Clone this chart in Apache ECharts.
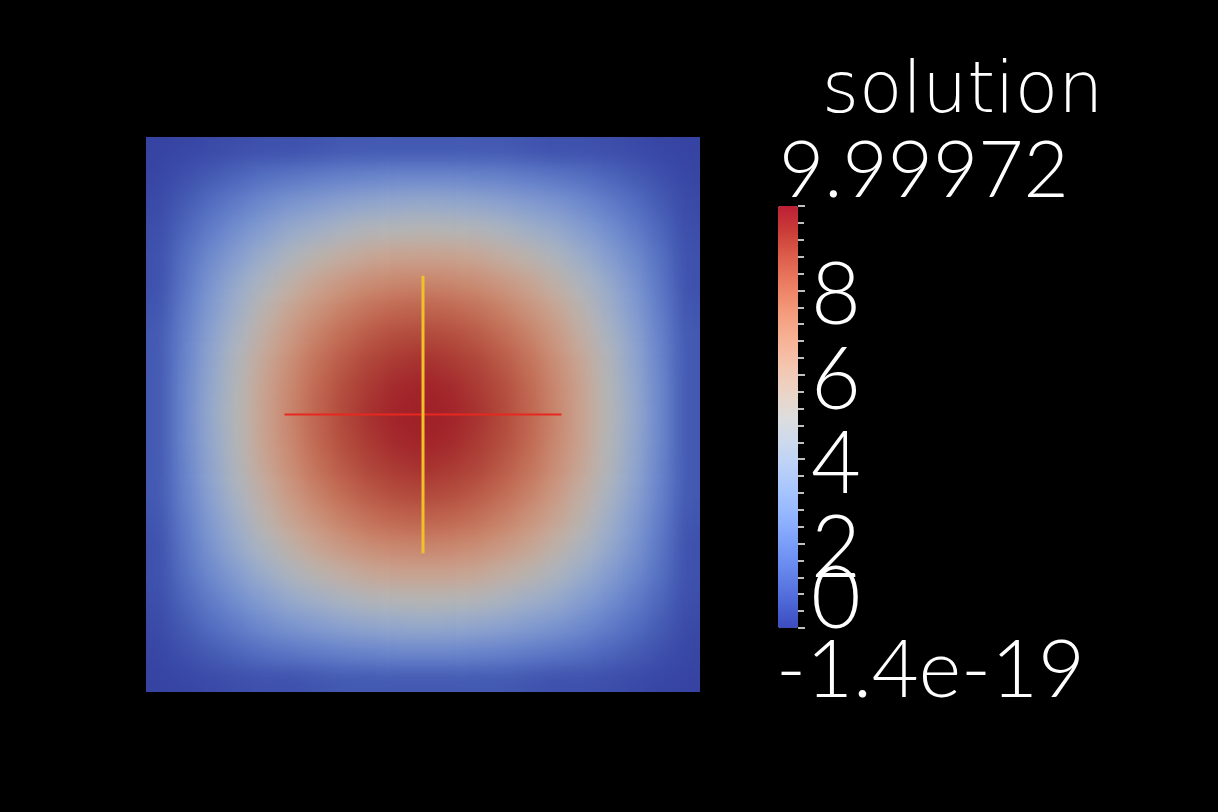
<!DOCTYPE html>
<html>
<head>
<meta charset="utf-8">
<script src="https://cdn.jsdelivr.net/npm/echarts@6/dist/echarts.min.js"></script>
<style>
  html, body { margin: 0; padding: 0; background: #000; width: 1218px; height: 812px; overflow: hidden; }
  #heat { position: absolute; left: 146px; top: 137px; width: 554px; height: 555px; filter: url(#smooth); }
  #main { position: absolute; left: 0; top: 0; width: 1218px; height: 812px; }
</style>
</head>
<body>
<svg width="0" height="0" style="position:absolute">
  <defs>
    <filter id="smooth" x="0" y="0" width="1" height="1" filterUnits="objectBoundingBox" color-interpolation-filters="sRGB">
      <feGaussianBlur stdDeviation="10"/>
      <feComponentTransfer><feFuncA type="table" tableValues="1 1"/></feComponentTransfer>
    </filter>
  </defs>
</svg>
<div id="heat"></div>
<div id="main"></div>
<script>
// ---- data ----
const fieldName = 'solution';
const rangeMax = 9.99972;
const rangeMinLabel = '-1.4e-19';
const rangeMaxLabel = '9.99972';
const rangeMin = 0;
const barTickValues = [2, 4, 6, 8];   // labels beside the colour bar
const barBottomTickValue = 0;         // bottom label, nudged up as in the picture

// cell indices across the square (x: left->right, y: bottom->top)
const xCells = ['0','1','2','3','4','5','6','7','8','9','10','11','12','13','14','15','16','17','18','19','20'];
const yCells = ['0','1','2','3','4','5','6','7','8','9','10','11','12','13','14','15','16','17','18','19','20'];

// estimated "solution" values per cell, rows from bottom (y=0) to top (y=20)
const solutionRows = [
  [0.1,0.2,0.3,0.4,0.5,0.5,0.6,0.7,0.7,0.7,0.7,0.7,0.7,0.7,0.6,0.5,0.5,0.4,0.3,0.2,0.1],
  [0.2,0.5,0.8,1.1,1.4,1.6,1.8,2.0,2.1,2.2,2.2,2.2,2.1,2.0,1.8,1.6,1.4,1.1,0.8,0.5,0.2],
  [0.3,0.8,1.3,1.8,2.3,2.7,3.0,3.3,3.5,3.6,3.7,3.6,3.5,3.3,3.0,2.7,2.3,1.8,1.3,0.8,0.3],
  [0.4,1.1,1.8,2.5,3.1,3.7,4.1,4.5,4.8,4.9,5.0,4.9,4.8,4.5,4.1,3.7,3.1,2.5,1.8,1.1,0.4],
  [0.5,1.4,2.3,3.1,3.9,4.6,5.2,5.6,6.0,6.2,6.2,6.2,6.0,5.6,5.2,4.6,3.9,3.1,2.3,1.4,0.5],
  [0.5,1.6,2.7,3.7,4.6,5.4,6.1,6.6,7.0,7.2,7.3,7.2,7.0,6.6,6.1,5.4,4.6,3.7,2.7,1.6,0.5],
  [0.6,1.8,3.0,4.1,5.2,6.1,6.8,7.4,7.9,8.2,8.3,8.2,7.9,7.4,6.8,6.1,5.2,4.1,3.0,1.8,0.6],
  [0.7,2.0,3.3,4.5,5.6,6.6,7.4,8.1,8.6,8.9,9.0,8.9,8.6,8.1,7.4,6.6,5.6,4.5,3.3,2.0,0.7],
  [0.7,2.1,3.5,4.8,6.0,7.0,7.9,8.6,9.1,9.4,9.6,9.4,9.1,8.6,7.9,7.0,6.0,4.8,3.5,2.1,0.7],
  [0.7,2.2,3.6,4.9,6.2,7.2,8.2,8.9,9.4,9.8,9.9,9.8,9.4,8.9,8.2,7.2,6.2,4.9,3.6,2.2,0.7],
  [0.7,2.2,3.7,5.0,6.2,7.3,8.3,9.0,9.6,9.9,10.0,9.9,9.6,9.0,8.3,7.3,6.2,5.0,3.7,2.2,0.7],
  [0.7,2.2,3.6,4.9,6.2,7.2,8.2,8.9,9.4,9.8,9.9,9.8,9.4,8.9,8.2,7.2,6.2,4.9,3.6,2.2,0.7],
  [0.7,2.1,3.5,4.8,6.0,7.0,7.9,8.6,9.1,9.4,9.6,9.4,9.1,8.6,7.9,7.0,6.0,4.8,3.5,2.1,0.7],
  [0.7,2.0,3.3,4.5,5.6,6.6,7.4,8.1,8.6,8.9,9.0,8.9,8.6,8.1,7.4,6.6,5.6,4.5,3.3,2.0,0.7],
  [0.6,1.8,3.0,4.1,5.2,6.1,6.8,7.4,7.9,8.2,8.3,8.2,7.9,7.4,6.8,6.1,5.2,4.1,3.0,1.8,0.6],
  [0.5,1.6,2.7,3.7,4.6,5.4,6.1,6.6,7.0,7.2,7.3,7.2,7.0,6.6,6.1,5.4,4.6,3.7,2.7,1.6,0.5],
  [0.5,1.4,2.3,3.1,3.9,4.6,5.2,5.6,6.0,6.2,6.2,6.2,6.0,5.6,5.2,4.6,3.9,3.1,2.3,1.4,0.5],
  [0.4,1.1,1.8,2.5,3.1,3.7,4.1,4.5,4.8,4.9,5.0,4.9,4.8,4.5,4.1,3.7,3.1,2.5,1.8,1.1,0.4],
  [0.3,0.8,1.3,1.8,2.3,2.7,3.0,3.3,3.5,3.6,3.7,3.6,3.5,3.3,3.0,2.7,2.3,1.8,1.3,0.8,0.3],
  [0.2,0.5,0.8,1.1,1.4,1.6,1.8,2.0,2.1,2.2,2.2,2.2,2.1,2.0,1.8,1.6,1.4,1.1,0.8,0.5,0.2],
  [0.1,0.2,0.3,0.4,0.5,0.5,0.6,0.7,0.7,0.7,0.7,0.7,0.7,0.7,0.6,0.5,0.5,0.4,0.3,0.2,0.1]
];

// probe lines over the domain [0,1] x [0,1]
const redLineX = [0.25, 0.75];
const redLineY = [0.5, 0.5];
const yellowLineX = [0.5, 0.5];
const yellowLineY = [0.25, 0.75];

// ---- styles ----
const coolWarm = ['#3b4cc0','#4d68d7','#6282ea','#7799f7','#8db0fe','#a3c2ff','#b8d0f9','#ccd9ee',
                  '#dddddd','#ecd3c5','#f5c4ad','#f7b194','#f49a7b','#ec7f63','#de604d','#cb3e38','#bd1f35'];
const coolWarmLit = ['#343f9f','#4156b0','#526cc0','#647fca','#7590cf','#879fd0','#98abcb','#a8b3c3',
                     '#b6b6b3','#c3ada1','#c9a18d','#cb9179','#c87e65','#c26a52','#b65342','#aa3a33','#a01f28'];

const heatData = [];
solutionRows.forEach(function (row, j) {
  row.forEach(function (v, i) { heatData.push([i, j, v]); });
});

const heat = echarts.init(document.getElementById('heat'), null, { renderer: 'canvas' });
heat.setOption({
  animation: false,
  backgroundColor: 'transparent',
  grid: { left: 0, right: 0, top: 0, bottom: 0 },
  xAxis: { type: 'category', data: xCells, show: false },
  yAxis: { type: 'category', data: yCells, show: false },
  visualMap: { show: false, min: rangeMin, max: rangeMax, calculable: false, inRange: { color: coolWarmLit } },
  series: [{ type: 'heatmap', data: heatData, progressive: 0, itemStyle: { borderWidth: 0 } }]
});

const numFont = 'Lato';
const labelText = { fontFamily: numFont, fontWeight: 300, fontSize: 86, color: '#ffffff' };
const main = echarts.init(document.getElementById('main'), null, { renderer: 'canvas' });
main.setOption({
  animation: false,
  backgroundColor: 'transparent',
  grid: [
    { left: 146, top: 137, width: 554, height: 555 },
    { left: 778, top: 206, width: 20, height: 422 }
  ],
  xAxis: [
    { type: 'value', gridIndex: 0, min: 0, max: 1, show: false },
    { type: 'value', gridIndex: 1, min: 0, max: 1, show: false }
  ],
  yAxis: [
    { type: 'value', gridIndex: 0, min: 0, max: 1, show: false },
    {
      type: 'value', gridIndex: 1, position: 'right', min: rangeMin, max: rangeMax, interval: 2, z: 10,
      splitLine: { show: false },
      axisLine: { show: true, onZero: false, lineStyle: { color: 'rgba(0,0,0,0)', width: 0 } },
      axisTick: { show: true, inside: false, length: 7, lineStyle: { color: '#ffffff', width: 1.5 } },
      minorTick: { show: true, splitNumber: 5, length: 6, lineStyle: { color: '#ffffff', width: 1.5 } },
      axisLabel: {
        show: true, showMaxLabel: false, showMinLabel: false, margin: 13, color: '#ffffff',
        fontFamily: numFont, fontWeight: 300, fontSize: 86,
        formatter: function (v) {
          return barTickValues.indexOf(v) < 0 ? '' : '{n|' + v + '}';
        },
        rich: { n: Object.assign({ padding: [12, 0, 0, 0] }, labelText) }
      }
    },
    {
      type: 'value', gridIndex: 1, position: 'right', min: rangeMin, max: rangeMax, interval: 2, z: 10,
      splitLine: { show: false },
      axisLine: { show: false, onZero: false },
      axisTick: { show: false },
      minorTick: { show: false },
      axisLabel: {
        show: true, showMaxLabel: false, showMinLabel: true, margin: 13, color: '#ffffff',
        fontFamily: numFont, fontWeight: 300, fontSize: 86,
        formatter: function (v) {
          return v === barBottomTickValue ? '{z|' + v + '}' : '';
        },
        rich: { z: Object.assign({ padding: [0, 0, 56, 0] }, labelText) }
      }
    }
  ],
  visualMap: [{
    type: 'continuous', seriesIndex: [], min: rangeMin, max: rangeMax, calculable: false, hoverLink: false,
    orient: 'vertical', left: 778, top: 206, itemWidth: 20, itemHeight: 422, padding: 0,
    text: null, inRange: { color: coolWarm }
  }],
  graphic: [
    { type: 'text', left: 822, top: 58, style: { text: fieldName, fill: '#ffffff', font: '200 71px "DejaVu Sans"' } },
    { type: 'text', left: 779, top: 133, style: { text: rangeMaxLabel, fill: '#ffffff', font: '300 78px Lato' } },
    { type: 'text', left: 776, top: 630, style: { text: rangeMinLabel, fill: '#ffffff', font: '300 81px Lato' } }
  ],
  series: [
    { type: 'line', xAxisIndex: 0, yAxisIndex: 0, symbol: 'none', silent: true, z: 3,
      data: redLineX.map(function (x, k) { return [x, redLineY[k]]; }),
      lineStyle: { color: '#e8281e', width: 2 } },
    { type: 'line', xAxisIndex: 0, yAxisIndex: 0, symbol: 'none', silent: true, z: 4,
      data: yellowLineX.map(function (x, k) { return [x, yellowLineY[k]]; }),
      lineStyle: { color: '#f2c12a', width: 3 } }
  ]
});
</script>
</body>
</html>
